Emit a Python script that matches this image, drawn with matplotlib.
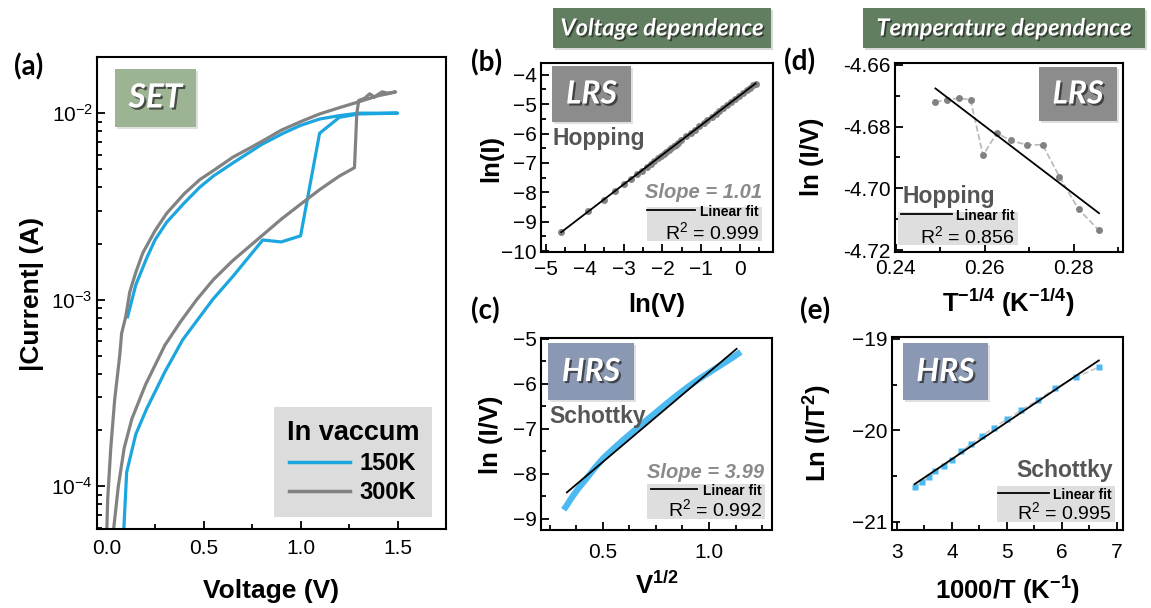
import numpy as np
import matplotlib.pyplot as plt
import matplotlib.patheffects as pe
from matplotlib.patches import Rectangle
from matplotlib.lines import Line2D
from matplotlib.transforms import Affine2D
from matplotlib.ticker import MultipleLocator, LogLocator, NullFormatter

plt.rcParams['font.family'] = 'Liberation Sans'
plt.rcParams['mathtext.fontset'] = 'custom'
plt.rcParams['mathtext.rm'] = 'Liberation Sans'
plt.rcParams['mathtext.it'] = 'Liberation Sans:italic'
plt.rcParams['mathtext.bf'] = 'Liberation Sans:bold'

# (a) SET sweeps, |I| vs V (forward then backward)
v_150 = [0.088, 0.103, 0.15, 0.206, 0.30, 0.392, 0.546, 0.65, 0.805, 0.90, 1.0, 1.098, 1.20, 1.30, 1.5,
         1.30, 1.20, 1.098, 1.0, 0.91, 0.80, 0.65, 0.55, 0.479, 0.40, 0.309, 0.25, 0.206, 0.15, 0.108]
i_150 = [5.8e-5, 1.19e-4, 1.9e-4, 2.6e-4, 4.1e-4, 6.1e-4, 1.0e-3, 1.33e-3, 2.09e-3, 2.04e-3, 2.2e-3, 7.8e-3,
         9.5e-3, 9.9e-3, 1.0e-2,
         1.0e-2, 9.7e-3, 9.3e-3, 8.6e-3, 7.8e-3, 6.8e-3, 5.4e-3, 4.6e-3, 4.0e-3, 3.3e-3, 2.6e-3, 2.1e-3,
         1.67e-3, 1.2e-3, 8.1e-4]
v_300 = [0.035, 0.06, 0.09, 0.13, 0.20, 0.30, 0.38, 0.464, 0.55, 0.65, 0.80, 0.90, 1.0, 1.10, 1.20, 1.278,
         1.29, 1.30, 1.33, 1.356, 1.38, 1.42, 1.45, 1.49,
         1.45, 1.40, 1.30, 1.20, 1.098, 1.0, 0.90, 0.825, 0.75, 0.65, 0.56, 0.48, 0.40, 0.309, 0.25, 0.186,
         0.15, 0.119, 0.098, 0.077, 0.067, 0.041, 0.021, 0.005, 0.0]
i_300 = [5.8e-5, 1.0e-4, 1.6e-4, 2.3e-4, 3.5e-4, 5.7e-4, 7.6e-4, 1.0e-3, 1.28e-3, 1.62e-3, 2.2e-3, 2.7e-3,
         3.25e-3, 3.9e-3, 4.6e-3, 5.1e-3,
         1.0e-2, 1.17e-2, 1.2e-2, 1.27e-2, 1.22e-2, 1.3e-2, 1.28e-2, 1.3e-2,
         1.27e-2, 1.24e-2, 1.15e-2, 1.07e-2, 9.9e-3, 9.0e-3, 8.1e-3, 7.3e-3, 6.6e-3, 5.8e-3, 5.0e-3,
         4.4e-3, 3.7e-3, 2.9e-3, 2.35e-3, 1.78e-3, 1.4e-3, 1.1e-3, 8.1e-4, 6.6e-4, 5.0e-4, 2.9e-4,
         1.6e-4, 8.5e-5, 5.5e-5]

# (b) LRS, ln(I) vs ln(V)
ln_v = [-4.61, -3.91, -3.51, -3.22, -3.00, -2.81, -2.66, -2.53, -2.41, -2.30, -2.21, -2.12, -2.04, -1.97,
        -1.90, -1.83, -1.77, -1.71, -1.66, -1.61, -1.51, -1.39, -1.27, -1.17, -1.05, -0.94, -0.84, -0.73,
        -0.63, -0.53, -0.43, -0.33, -0.22, -0.12, -0.02, 0.08, 0.18, 0.26, 0.34, 0.40]
ln_i = [-9.36, -8.65, -8.25, -7.95, -7.73, -7.54, -7.39, -7.26, -7.13, -7.02, -6.93, -6.84, -6.76, -6.69,
        -6.62, -6.55, -6.49, -6.43, -6.38, -6.33, -6.23, -6.10, -5.98, -5.88, -5.76, -5.65, -5.55, -5.44,
        -5.34, -5.24, -5.13, -5.03, -4.92, -4.82, -4.72, -4.62, -4.52, -4.44, -4.36, -4.30]

# (c) HRS, ln(I/V) vs V^1/2
sqrt_v = [0.315, 0.33, 0.35, 0.38, 0.42, 0.46, 0.50, 0.55, 0.60, 0.65, 0.70, 0.75, 0.80, 0.85, 0.90,
          0.95, 1.00, 1.05, 1.10, 1.15]
ln_iv_c = [-8.80, -8.70, -8.55, -8.35, -8.12, -7.88, -7.66, -7.44, -7.23, -7.03, -6.83, -6.635, -6.44,
           -6.25, -6.07, -5.90, -5.75, -5.60, -5.45, -5.29]
slope_c, icpt_c = 3.99, -9.73
fit_range_c = [0.33, 1.13]

# (d) LRS, ln(I/V) vs T^-1/4
t_quarter = [0.2489, 0.2514, 0.2542, 0.2568, 0.2596, 0.2627, 0.2658, 0.2694, 0.2730, 0.2768, 0.2811, 0.2857]
ln_iv_d = [-4.6721, -4.6714, -4.6708, -4.6714, -4.6893, -4.6821, -4.6845, -4.6859, -4.6859, -4.6962,
           -4.7067, -4.7135]

# (e) HRS, ln(I/T^2) vs 1000/T
inv_t = [3.32, 3.45, 3.58, 3.70, 3.85, 4.00, 4.17, 4.34, 4.55, 4.76, 5.00, 5.26, 5.56, 5.88, 6.25, 6.67]
ln_it2 = [-20.62, -20.57, -20.51, -20.44, -20.39, -20.32, -20.23, -20.15, -20.06, -19.97, -19.88,
          -19.78, -19.67, -19.54, -19.42, -19.31]

BLUE = '#1ba6df'
LBLUE = '#4cb9f0'
GREY = '#828282'

W, H = 1151, 608
fig = plt.figure(figsize=(W / 100, H / 100), dpi=100)
# pixel coordinates, origin top-left
pix = Affine2D().scale(1 / W, -1 / H).translate(0, 1) + fig.transFigure


def add_ax(l, t, r, b):
    ax = fig.add_axes([l / W, 1 - b / H, (r - l) / W, (b - t) / H])
    for s in ax.spines.values():
        s.set_linewidth(1.5)
    ax.tick_params(which='both', direction='in', top=False, right=False, labelsize=15, width=1.3, pad=3)
    ax.tick_params(which='major', length=6)
    ax.tick_params(which='minor', length=3.5)
    return ax


def label(x, y, s, size=18.5, rot=0, **kw):
    fig.text(x, y, s, transform=pix, ha='center', va='center', fontsize=size,
             fontweight='bold', rotation=rot, **kw)


def tag_box(x0, y0, x1, y1, color, s, size=23):
    fig.add_artist(Rectangle((x0 + 2, y0 + 2), x1 - x0, y1 - y0, transform=pix,
                             facecolor='k', alpha=0.12, edgecolor='none'))
    fig.add_artist(Rectangle((x0, y0), x1 - x0, y1 - y0, transform=pix,
                             facecolor=color, edgecolor='none'))
    fig.text((x0 + x1) / 2, (y0 + y1) / 2, s, transform=pix, ha='center', va='center',
             fontsize=size, family='Lato', style='italic', fontweight='bold', color='white',
             path_effects=[pe.withSimplePatchShadow(offset=(1.5, -1.5), shadow_rgbFace='#222222', alpha=0.7)])


def fit_box(x0, y0, x1, y1, r2, line_x, line_y):
    fig.add_artist(Rectangle((x0, y0), x1 - x0, y1 - y0, transform=pix,
                             facecolor='#dedede', edgecolor='none'))
    fig.add_artist(Line2D(line_x, [line_y, line_y], transform=pix, color='k', lw=1.3))
    fig.text(x1 - 3, line_y + 2, 'Linear fit', transform=pix, ha='right', va='center',
             fontsize=10, fontweight='bold')
    fig.text(x1 - 3, (y0 + y1) / 2 + 8, r'R$^2$ = ' + r2, transform=pix, ha='right',
             va='center', fontsize=14)


# ---- (a)
ax = add_ax(97, 57, 446, 529)
ax.plot(v_150, i_150, color=BLUE, lw=2.3, label='150K')
ax.plot(v_300, i_300, color=GREY, lw=2.3, label='300K')
ax.set_yscale('log')
ax.set_xlim(-0.05, 1.75)
ax.set_ylim(5.9e-5, 2.0e-2)
ax.xaxis.set_major_locator(MultipleLocator(0.5))
ax.xaxis.set_minor_locator(MultipleLocator(0.25))
ax.yaxis.set_minor_locator(LogLocator(subs=np.arange(2, 10)))
ax.yaxis.set_minor_formatter(NullFormatter())
ax.xaxis.set_major_formatter(plt.FormatStrFormatter('%.1f'))
ax.tick_params(axis='x', pad=7)
leg = ax.legend(title='In vaccum', loc='lower right', bbox_to_anchor=(0.96, 0.025), borderaxespad=0,
                prop={'weight': 'bold', 'size': 17}, title_fontproperties={'weight': 'bold', 'size': 19.5},
                facecolor='#dcdcdc', edgecolor='none', fancybox=False, framealpha=1,
                handlelength=2.6, handletextpad=0.4, labelspacing=0.25, borderpad=0.55)
for h in leg.legend_handles:
    h.set_linewidth(2.5)
label(32, 294, '|Current| (A)', size=19, rot=90)
label(271, 591, 'Voltage (V)', size=19)
tag_box(115, 69, 196, 127, '#9db494', 'SET', size=24)

# ---- (b)
ax = add_ax(541, 63, 773, 252)
slope_b, icpt_b = np.polyfit(ln_v, ln_i, 1)
ax.plot(ln_v, ln_i, 'o', color=GREY, ms=5, mec='none')
ax.plot([ln_v[0], ln_v[-1]], [slope_b * ln_v[0] + icpt_b, slope_b * ln_v[-1] + icpt_b], color='k', lw=1.3)
ax.set_xlim(-5.13, 0.85)
ax.set_ylim(-10.03, -3.6)
ax.xaxis.set_major_locator(MultipleLocator(1))
ax.xaxis.set_minor_locator(MultipleLocator(0.5))
ax.yaxis.set_major_locator(MultipleLocator(1))
ax.yaxis.set_minor_locator(MultipleLocator(0.5))
ax.tick_params(axis='x', pad=6)
label(491, 158, 'ln(I)', rot=90)
label(657, 305, 'ln(V)')
tag_box(552, 66, 631, 122, '#8c8c8c', 'LRS')
fig.text(553, 138, 'Hopping', transform=pix, ha='left', va='center', fontsize=16.5, fontweight='bold', color='#555555')
fig.text(762, 192, 'Slope = 1.01', transform=pix, ha='right', va='center', fontsize=14.5,
         fontweight='bold', style='italic', color='#8a8a8a')
fit_box(647, 207, 762, 241, '0.999', [647, 695], 210)

# ---- (c)
ax = add_ax(541, 338, 772, 530)
ax.plot(sqrt_v, ln_iv_c, color=LBLUE, lw=4.5, solid_capstyle='butt')
ax.plot(fit_range_c, [slope_c * x + icpt_c for x in fit_range_c], color='k', lw=1.3)
ax.set_xlim(0.208, 1.297)
ax.set_ylim(-9.25, -4.98)
ax.xaxis.set_major_locator(MultipleLocator(0.5))
ax.xaxis.set_minor_locator(MultipleLocator(0.125))
ax.yaxis.set_major_locator(MultipleLocator(1))
ax.yaxis.set_minor_locator(MultipleLocator(0.5))
ax.tick_params(axis='x', pad=9)
label(491, 435, 'ln (I/V)', rot=90)
label(657, 585, r'$\mathbf{V^{1/2}}$')
tag_box(548, 343, 634, 400, '#8a98b4', 'HRS')
fig.text(549, 417, 'Schottky', transform=pix, ha='left', va='center', fontsize=16.5, fontweight='bold', color='#555555')
fig.text(764, 473, 'Slope = 3.99', transform=pix, ha='right', va='center', fontsize=14.5,
         fontweight='bold', style='italic', color='#8a8a8a')
fit_box(647, 484, 765, 519, '0.992', [651, 697], 489)

# ---- (d)
ax = add_ax(895, 63, 1123, 252)
slope_d, icpt_d = np.polyfit(t_quarter, ln_iv_d, 1)
ax.plot(t_quarter, ln_iv_d, '--', color='#b8b8b8', lw=1.2)
ax.plot(t_quarter, ln_iv_d, 'o', color=GREY, ms=5, mec='none')
ax.plot([t_quarter[0], t_quarter[-1]], [slope_d * t_quarter[0] + icpt_d, slope_d * t_quarter[-1] + icpt_d],
        color='k', lw=1.3)
ax.set_xlim(0.2398, 0.2911)
ax.set_ylim(-4.7205, -4.6595)
ax.xaxis.set_major_locator(MultipleLocator(0.02))
ax.xaxis.set_minor_locator(MultipleLocator(0.01))
ax.yaxis.set_major_locator(MultipleLocator(0.02))
ax.yaxis.set_minor_locator(MultipleLocator(0.01))
ax.xaxis.set_major_formatter(plt.FormatStrFormatter('%.2f'))
ax.yaxis.set_major_formatter(plt.FormatStrFormatter('%.2f'))
ax.tick_params(axis='x', pad=5)
label(812, 157, 'ln (I/V)', rot=90)
label(1008, 303, r'$\mathbf{T^{-1/4}\ (K^{-1/4})}$')
tag_box(1039, 67, 1117, 121, '#8c8c8c', 'LRS')
fig.text(903, 197, 'Hopping', transform=pix, ha='left', va='center', fontsize=16.5, fontweight='bold', color='#555555')
fit_box(898, 212, 1018, 245, '0.856', [901, 952], 214)

# ---- (e)
ax = add_ax(892, 337, 1123, 530)
slope_e, icpt_e = np.polyfit(inv_t, ln_it2, 1)
ax.plot(inv_t, ln_it2, '--', color='#c8c8c8', lw=1.2)
ax.plot(inv_t, ln_it2, 's', color=LBLUE, ms=5, mec='none')
ax.plot([inv_t[0], inv_t[-1]], [slope_e * inv_t[0] + icpt_e, slope_e * inv_t[-1] + icpt_e], color='k', lw=1.3)
ax.set_xlim(2.91, 7.11)
ax.set_ylim(-21.09, -18.98)
ax.xaxis.set_major_locator(MultipleLocator(1))
ax.xaxis.set_minor_locator(MultipleLocator(0.5))
ax.yaxis.set_major_locator(MultipleLocator(1))
ax.yaxis.set_minor_locator(MultipleLocator(0.5))
ax.tick_params(axis='x', pad=9)
label(818, 433, r'$\mathbf{Ln\ (I/T^2)}$', rot=90)
label(1008, 591, r'$\mathbf{1000/T\ (K^{-1})}$')
tag_box(903, 343, 988, 400, '#8a98b4', 'HRS')
fig.text(1113, 470, 'Schottky', transform=pix, ha='right', va='center', fontsize=16.5, fontweight='bold', color='#555555')
fit_box(997, 486, 1115, 522, '0.995', [998, 1049], 493)

# panel letters
for x, y, s in [(29, 67, '(a)'), (487, 63, '(b)'), (485, 311, '(c)'), (800, 62, '(d)'), (815, 311, '(e)')]:
    fig.text(x, y, s, transform=pix, ha='center', va='center', fontsize=20, family='Lato', fontweight='bold')

# section headers
for x0, x1, s in [(553, 771, 'Voltage dependence'), (863, 1145, 'Temperature dependence')]:
    fig.add_artist(Rectangle((x0 + 2, 10), x1 - x0, 40, transform=pix, facecolor='k', alpha=0.15, edgecolor='none'))
    fig.add_artist(Rectangle((x0, 8), x1 - x0, 40, transform=pix, facecolor='#627e61', edgecolor='none'))
    fig.text((x0 + x1) / 2, 28, s, transform=pix, ha='center', va='center', fontsize=17, family='Lato',
             style='italic', fontweight='bold', color='white',
             path_effects=[pe.withSimplePatchShadow(offset=(1.2, -1.2), shadow_rgbFace='#222222', alpha=0.7)])

fig.savefig('out.png', dpi=100)
